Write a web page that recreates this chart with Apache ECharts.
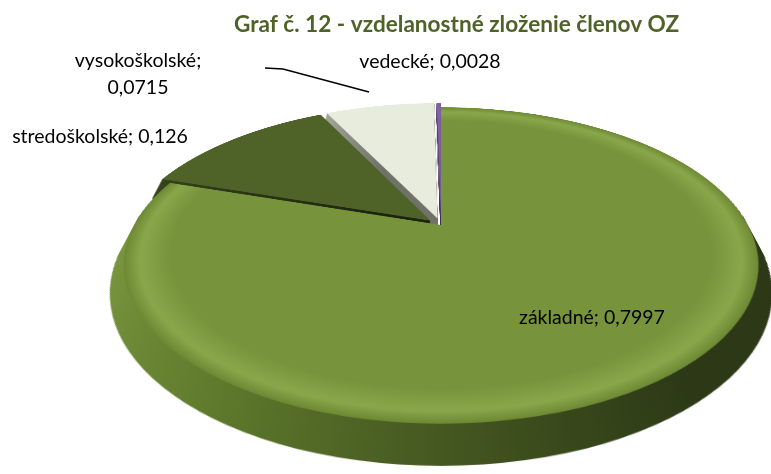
<!DOCTYPE html>
<html>
<head>
<meta charset="utf-8">
<script src="https://cdn.jsdelivr.net/npm/echarts@6/dist/echarts.min.js"></script>
<style>
  html, body { margin: 0; padding: 0; background: #fff; }
  #wrap { position: relative; width: 771px; height: 474px; overflow: hidden; }
  #pie { position: absolute; width: 800px; height: 800px; z-index: 1; }
  #labels { position: absolute; left: 0; top: 0; width: 771px; height: 474px; z-index: 2; }
</style>
</head>
<body>
<div id="wrap"><div id="pie"></div><div id="labels"></div></div>
<script>
    // Data
    const TITLE = 'Graf č. 12 - vzdelanostné zloženie členov OZ';
    const CATEGORIES = ['základné', 'stredoškolské', 'vysokoškolské', 'vedecké'];
    const VALUES = [0.7997, 0.126, 0.0715, 0.0028];

    // Look
    const FONT = 'Lato';
    const TOP_COLORS = ['#77933c', '#4f6228', '#e8ecdc', '#8064a2'];
    const SIDE_COLORS = [
        ['#86a447', '#5f7a2c', '#2c3816'],
        ['#3a4a1c', '#2b3716', '#1c2410'],
        ['#a9ab9f', '#8e9186', '#6f7268'],
        ['#5d4780', '#4d3b66', '#3a2c4d']
    ];

    // Pseudo 3D: a flat pie tilted with a CSS perspective transform
    const R = 307;          // pie radius in its own plane
    const CX = 441;         // apex on screen
    const CY = 225;
    const HALF = 400;       // half size of the pie div
    const TILT = 61.2;      // deg
    const PERSPECTIVE = 1052;
    const SHIFT = 46;       // thickness, in plane px
    const STEPS = 40;

    const pieEl = document.getElementById('pie');
    pieEl.style.left = (CX - HALF) + 'px';
    pieEl.style.top = (CY - HALF) + 'px';
    pieEl.style.transformOrigin = `${HALF}px ${HALF}px`;
    pieEl.style.transform = `perspective(${PERSPECTIVE}px) rotateX(${TILT}deg)`;

    function fmt(v) {
        return String(v).replace('.', ',');
    }

    function sideColor(i) {
        const c = SIDE_COLORS[i];
        return {
            type: 'linear', x: 0, y: 0, x2: 1, y2: 0.3,
            colorStops: [
                { offset: 0, color: c[0] },
                { offset: 0.45, color: c[1] },
                { offset: 1, color: c[2] }
            ]
        };
    }

    function topColor(i) {
        const c = TOP_COLORS[i];
        if (i !== 0) return c;
        return {
            type: 'radial', x: 0.5, y: 0.5, r: 0.5,
            colorStops: [
                { offset: 0, color: c },
                { offset: 0.86, color: c },
                { offset: 0.95, color: '#89a74a' },
                { offset: 1, color: '#6d8834' }
            ]
        };
    }

    function pieData(colorFn) {
        return CATEGORIES.map((name, i) => ({
            name: name,
            value: VALUES[i],
            selected: i > 0,
            itemStyle: { color: colorFn(i) }
        }));
    }

    const layers = [];
    for (let s = STEPS; s >= 0; s--) {
        layers.push({
            type: 'pie',
            silent: true,
            animation: false,
            startAngle: 90,
            clockwise: true,
            center: [HALF, HALF + SHIFT * s / STEPS],
            radius: R,
            selectedMode: 'multiple',
            selectedOffset: 14,
            label: { show: false },
            labelLine: { show: false },
            emphasis: { disabled: true },
            data: pieData(s === 0 ? topColor : sideColor)
        });
    }

    const pieChart = echarts.init(pieEl);
    pieChart.setOption({ series: layers });

    // Label positions (Excel labels were placed by hand)
    const LABEL_LAYOUT = [
        { x: 592, y: 318, align: 'center', verticalAlign: 'middle' },
        { x: 100, y: 137, align: 'center', verticalAlign: 'middle' },
        { x: 138, y: 74, align: 'center', verticalAlign: 'middle',
          labelLinePoints: [[369, 92], [283, 69], [265, 68]] },
        { x: 430, y: 62, align: 'center', verticalAlign: 'middle' }
    ];

    const labelChart = echarts.init(document.getElementById('labels'));
    labelChart.setOption({
        title: {
            text: TITLE,
            left: 229,
            top: 8,
            textStyle: { fontFamily: FONT, fontSize: 22.6, fontWeight: 'bold', color: '#4f6228' }
        },
        series: [{
            type: 'pie',
            silent: true,
            animation: false,
            startAngle: 90,
            center: [CX, CY],
            radius: 150,
            itemStyle: { color: 'rgba(0,0,0,0)' },
            label: {
                show: true,
                position: 'outside',
                color: '#000',
                fontFamily: FONT,
                fontSize: 19.5,
                lineHeight: 27,
                formatter: p => p.dataIndex === 2 ? `${p.name};\n${fmt(p.value)}` : `${p.name}; ${fmt(p.value)}`
            },
            labelLine: { show: false, lineStyle: { color: '#000', width: 1.5 } },
            labelLayout: p => LABEL_LAYOUT[p.dataIndex],
            data: CATEGORIES.map((name, i) => ({
                name: name,
                value: VALUES[i],
                labelLine: { show: i === 2 }
            }))
        }]
    });
</script>
</body>
</html>
